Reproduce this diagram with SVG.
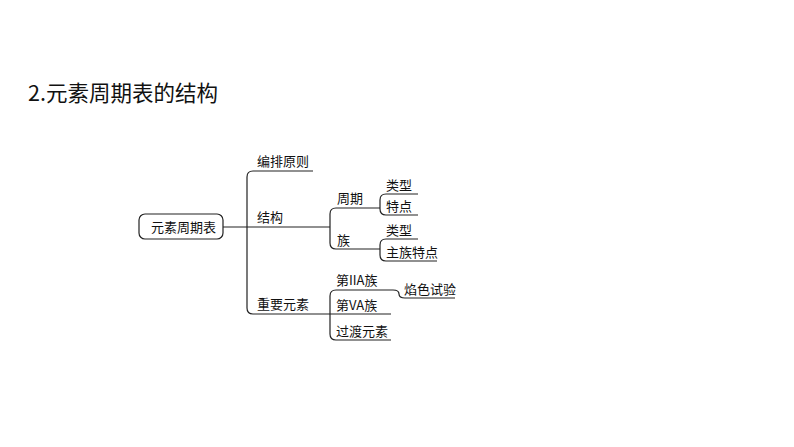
<svg xmlns="http://www.w3.org/2000/svg" width="794" height="447" viewBox="0 0 794 447">
<style>
text{font-family:"Noto Sans CJK SC","Liberation Sans",sans-serif;font-size:13px;fill:#111}
.t{font-size:21.5px}
path,.box{fill:none;stroke:#222;stroke-width:1.2}
</style>
<rect width="794" height="447" style="fill:#fff;stroke:none"/>
<text class="t" x="28" y="101">2.元素周期表的结构</text>
<g id="root"><rect class="box" x="139" y="214" width="84" height="25" rx="6"/><text x="151" y="232">元素周期表</text></g>
<g id="connectors">
<path d="M223 227H330"/>
<path d="M313 171H253Q247 171 247 177V308Q247 314 253 314H330"/>
<path d="M380 208H336Q330 208 330 214V243Q330 249 336 249H380"/>
<path d="M418 194H386Q380 194 380 200V209Q380 215 386 215H418"/>
<path d="M418 239H386Q380 239 380 245V255Q380 261 386 261H437"/>
<path d="M393 290H336Q330 290 330 296V334Q330 340 336 340H391"/>
<path d="M330 314H391"/>
<path d="M393 290Q399 290 399 294Q399 298 405 298H455"/>
</g>
<g id="n1"><text x="257" y="166">编排原则</text></g>
<g id="n2"><text x="257" y="222">结构</text></g>
<g id="n3"><text x="257" y="309">重要元素</text></g>
<g id="n4"><text x="337" y="203">周期</text></g>
<g id="n5"><text x="337" y="245">族</text></g>
<g id="n6"><text x="386" y="190">类型</text></g>
<g id="n7"><text x="386" y="211">特点</text></g>
<g id="n8"><text x="386" y="235">类型</text></g>
<g id="n9"><text x="386" y="257">主族特点</text></g>
<g id="n10"><text x="336" y="285">第IIA族</text></g>
<g id="n11"><text x="336" y="310">第VA族</text></g>
<g id="n12"><text x="336" y="336">过渡元素</text></g>
<g id="n13"><text x="404" y="294">焰色试验</text></g>
</svg>
